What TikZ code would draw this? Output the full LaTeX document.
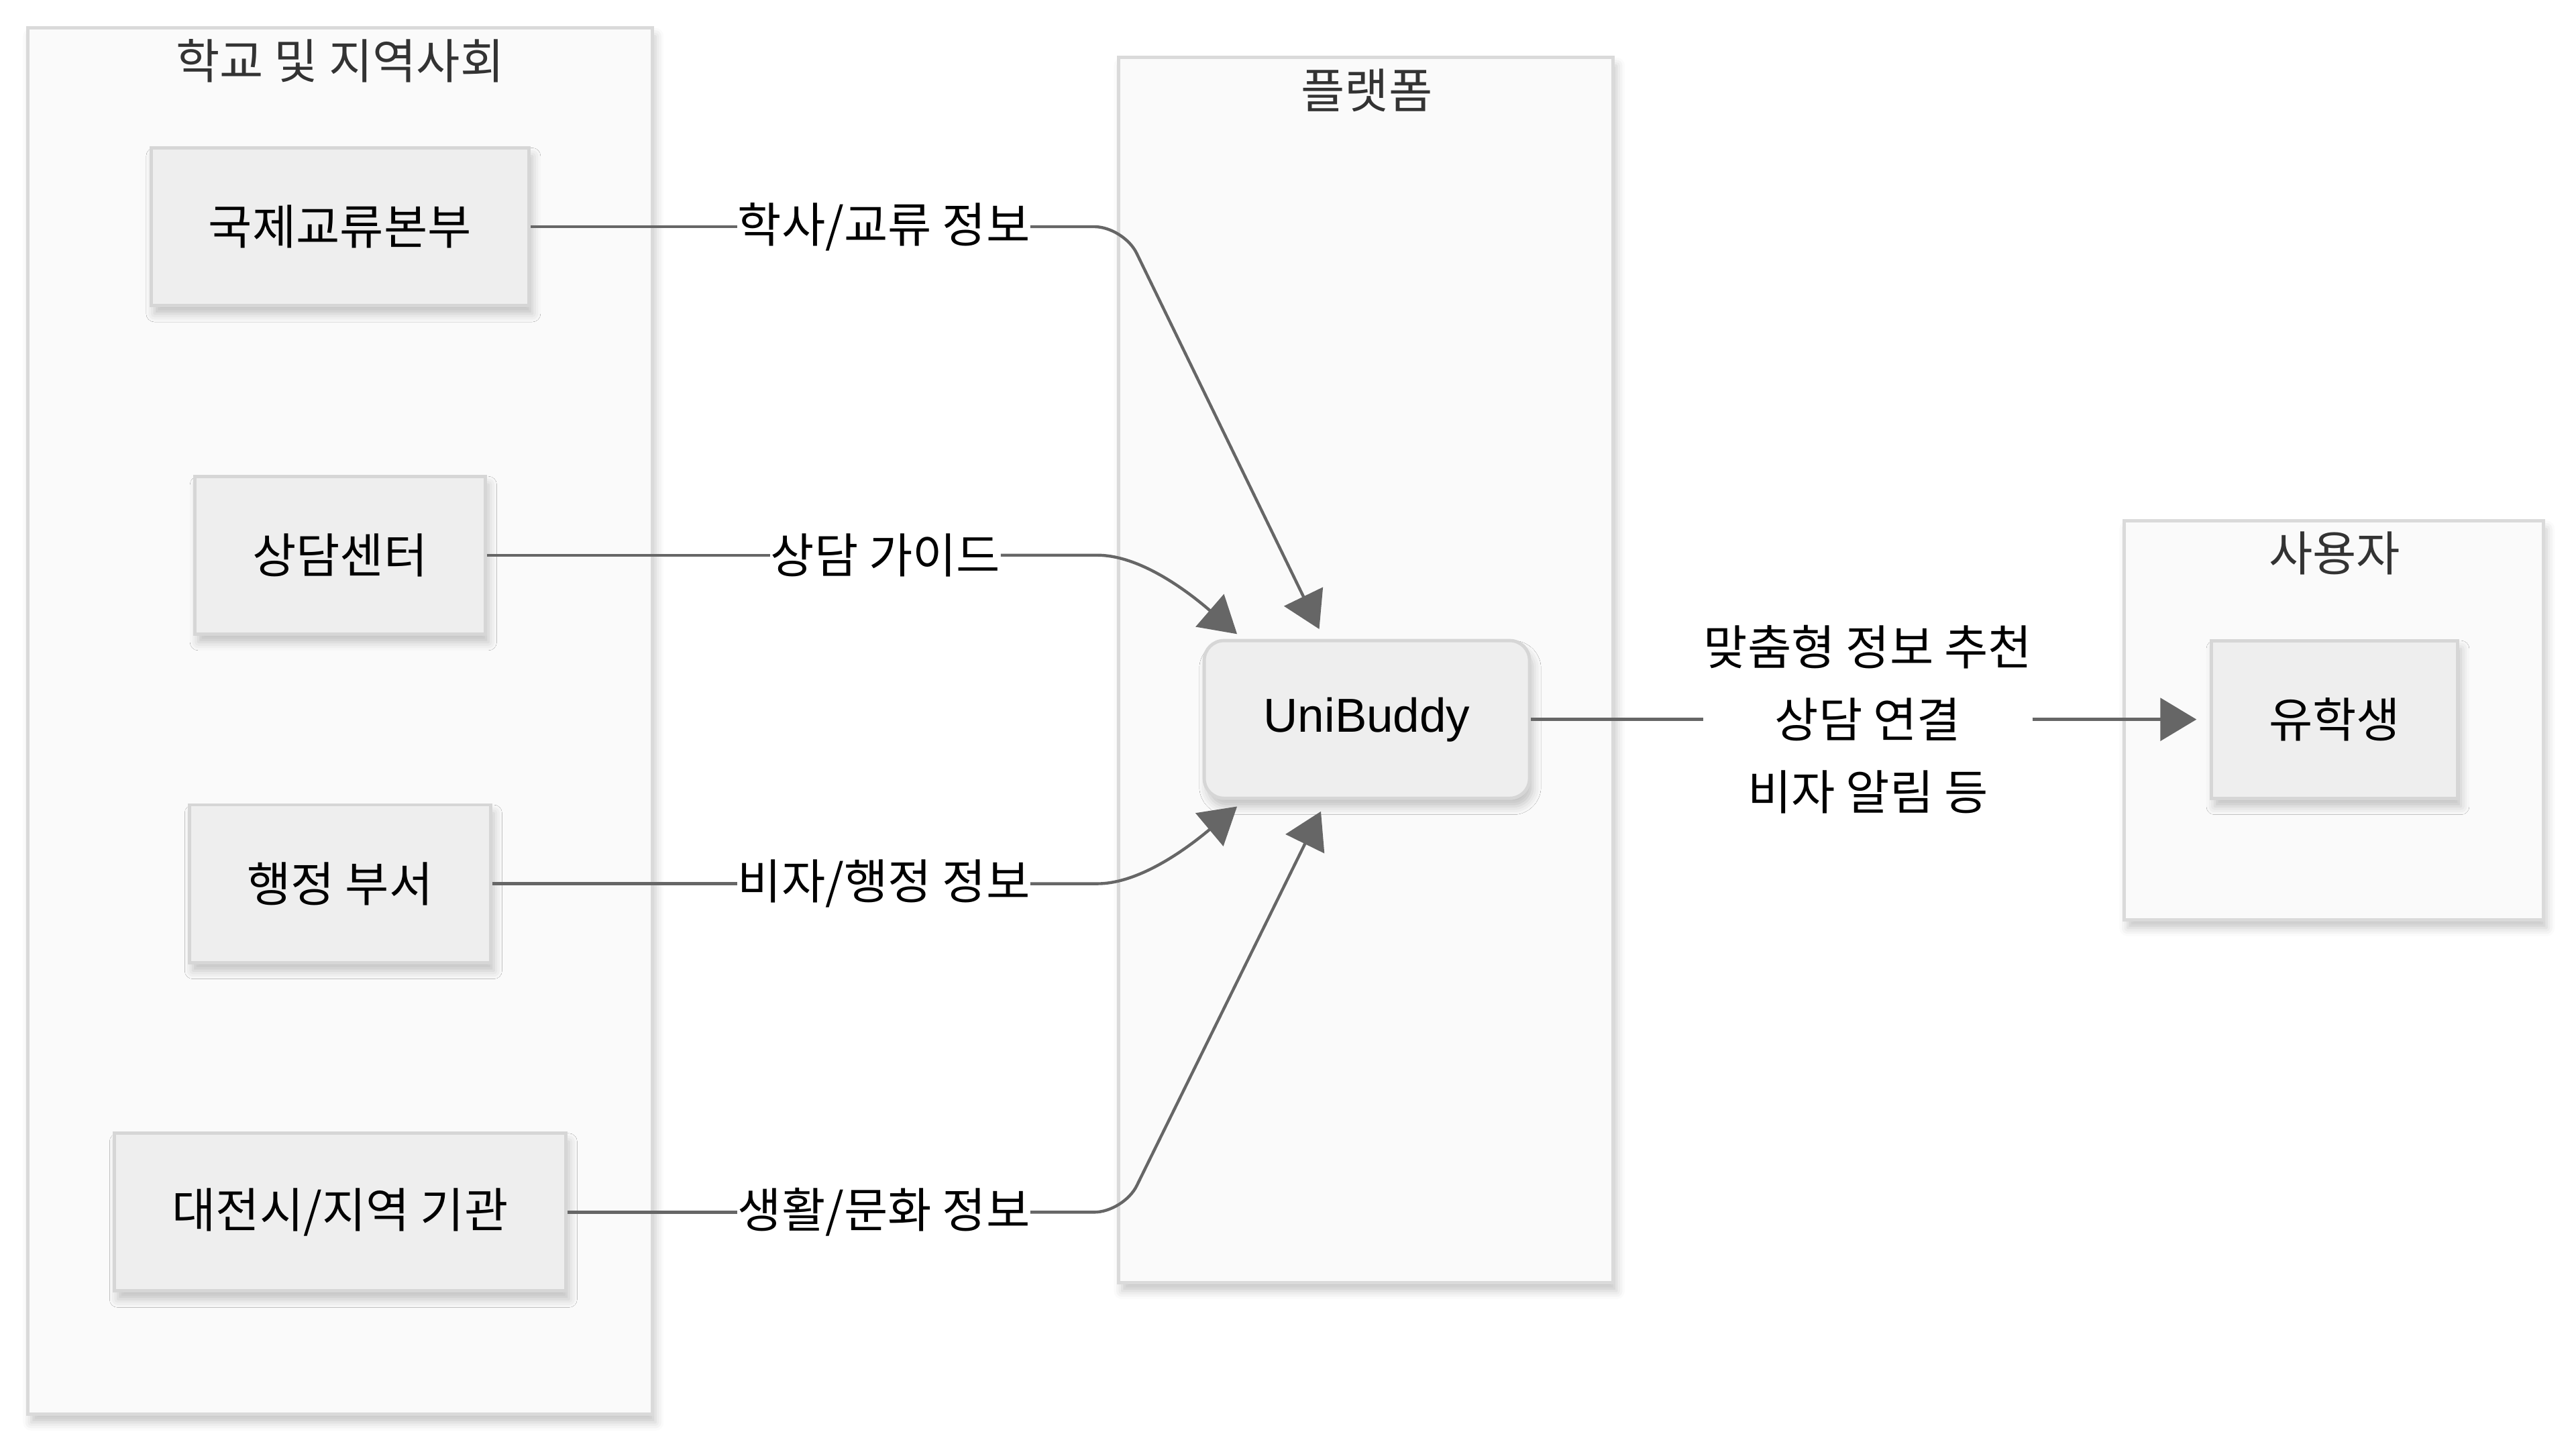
\documentclass[tikz,border=0pt]{standalone}
\usepackage{fontspec}
\setmainfont{Noto Sans CJK KR}
\newfontfamily\latinfont{Liberation Sans}
\usetikzlibrary{arrows.meta,shadows.blur,positioning}
\definecolor{grupo}{HTML}{FAFAFA}
\definecolor{grupoborde}{HTML}{DADADA}
\definecolor{caja}{HTML}{EEEEEE}
\definecolor{cajaborde}{HTML}{D6D6D6}
\definecolor{linea}{HTML}{666666}
\definecolor{titulo}{HTML}{333333}
\tikzset{
	sombra/.style={blur shadow={shadow xshift=2pt, shadow yshift=-5pt, shadow blur radius=5pt, shadow opacity=22}},
	grupo/.style={draw=grupoborde, fill=grupo, line width=2pt, sombra},
	titgrupo/.style={text=titulo},
	caja/.style={draw=cajaborde, fill=caja, line width=2pt, minimum height=96pt, inner xsep=35pt, sombra},
	etiq/.style={inner xsep=0pt, inner ysep=2pt, align=center},
	conector/.style={draw=linea, line width=1.8pt},
	flecha/.style={conector, -{Triangle[length=22pt, width=26pt]}, rounded corners=18pt},
}
\begin{document}
\begin{tikzpicture}[x=1pt, y=-1pt, font=\fontsize{29}{44}\selectfont]
	\useasboundingbox (0,0) rectangle (1568,879);
		% Grupos
			\node[grupo, minimum width=380pt, minimum height=844pt] (escuela) at (207,439) {};
			\node[titgrupo] (tescuela) at (207,37) {학교 및 지역사회};
			\node[grupo, minimum width=301pt, minimum height=746pt] (plataforma) at (831.5,408) {};
			\node[titgrupo] (tplataforma) at (832,55) {플랫폼};
			\node[grupo, minimum width=255pt, minimum height=243pt] (usuario) at (1420.5,438.5) {};
			\node[titgrupo] (tusuario) at (1421,337) {사용자};
		% Cajas
			\node[caja] (intl) at (207,138) {국제교류본부};
			\node[caja] (consejo) at (207,338) {상담센터};
			\node[caja] (admin) at (207,538) {행정 부서};
			\node[caja] (ciudad) at (207,738) {대전시/지역 기관};
			\node[caja, rounded corners=12pt, inner xsep=0pt, minimum width=198pt, font=\latinfont\fontsize{29}{34}\selectfont] (ub) at (832,438) {UniBuddy};
			\node[caja] (alumno) at (1421,438) {유학생};
		% Etiquetas
			\node[etiq] (l1) at (538,138) {학사/교류 정보};
			\node[etiq] (l2) at (539,338) {상담 가이드};
			\node[etiq] (l3) at (538,538) {비자/행정 정보};
			\node[etiq] (l4) at (538,738) {생활/문화 정보};
			\node[etiq] (l5) at (1137,438) {맞춤형 정보 추천\\상담 연결\\비자 알림 등};
		% Puntas
			\coordinate (p1) at (803,383);
			\coordinate (p2) at (753,386);
			\coordinate (p3) at (753,491);
			\coordinate (p4) at (804,494);
		% Flechas
			\draw[conector] (intl.east) -- (l1.west);
			\draw[flecha] (l1.east) -- (684,138) -- (p1);
			\draw[conector] (consejo.east) -- (l2.west);
			\draw[flecha] (l2.east) -- (650,338) .. controls (690,338) and (716,354) .. (p2);
			\draw[conector] (admin.east) -- (l3.west);
			\draw[flecha] (l3.east) -- (650,538) .. controls (690,538) and (716,522) .. (p3);
			\draw[conector] (ciudad.east) -- (l4.west);
			\draw[flecha] (l4.east) -- (684,738) -- (p4);
			\draw[conector] (ub.east) -- (ub.east -| l5.west);
			\draw[flecha, shorten >=8pt] (l5.east |- alumno.west) -- (alumno.west);
\end{tikzpicture}
\end{document}
